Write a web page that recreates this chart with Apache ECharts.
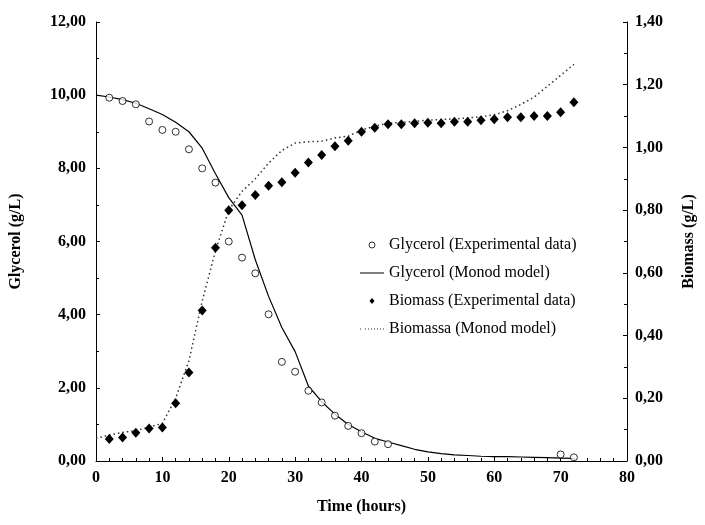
<!DOCTYPE html>
<html>
<head>
<meta charset="utf-8">
<script src="https://cdn.jsdelivr.net/npm/echarts@6/dist/echarts.min.js"></script>
<style>
  html, body { margin: 0; padding: 0; background: #fff; }
  #main { width: 705px; height: 525px; }
</style>
</head>
<body>
<div id="main"></div>
<script>
// experimental points (every 2 h)
var glyExpTime = [2, 4, 6, 8, 10, 12, 14, 16, 18, 20, 22, 24, 26, 28, 30, 32, 34, 36, 38, 40, 42, 44, 70, 72];
var glyExp = [9.93, 9.84, 9.75, 9.28, 9.05, 9.0, 8.52, 8.0, 7.61, 6.0, 5.56, 5.13, 4.01, 2.71, 2.44, 1.92, 1.60, 1.24, 0.96, 0.76, 0.53, 0.46, 0.18, 0.10];

var bioExpTime = [2, 4, 6, 8, 10, 12, 14, 16, 18, 20, 22, 24, 26, 28, 30, 32, 34, 36, 38, 40, 42, 44, 46, 48, 50, 52, 54, 56, 58, 60, 62, 64, 66, 68, 70, 72];
var bioExp = [0.070, 0.075, 0.090, 0.104, 0.107, 0.184, 0.282, 0.48, 0.68, 0.80, 0.816, 0.848, 0.878, 0.889, 0.919, 0.952, 0.976, 1.004, 1.021, 1.05, 1.063, 1.074, 1.074, 1.077, 1.079, 1.077, 1.082, 1.082, 1.087, 1.09, 1.096, 1.096, 1.10, 1.10, 1.112, 1.144];

// Monod model curves
var modelTime = [0, 2, 4, 6, 8, 10, 12, 14, 16, 18, 20, 22, 24, 26, 28, 30, 32, 34, 36, 38, 40, 42, 44, 46, 48, 50, 52, 54, 56, 58, 60, 62, 64, 66, 68, 70, 72];
var glyModel = [10.0, 9.95, 9.88, 9.78, 9.63, 9.47, 9.26, 9.0, 8.55, 7.85, 7.2, 6.72, 5.5, 4.5, 3.65, 2.99, 2.05, 1.62, 1.28, 1.0, 0.8, 0.62, 0.52, 0.42, 0.32, 0.25, 0.2, 0.17, 0.15, 0.13, 0.12, 0.12, 0.11, 0.1, 0.09, 0.08, 0.07];
var bioModel = [0.072, 0.083, 0.091, 0.097, 0.108, 0.12, 0.20, 0.32, 0.51, 0.67, 0.80, 0.86, 0.90, 0.95, 0.99, 1.014, 1.018, 1.02, 1.03, 1.036, 1.055, 1.068, 1.077, 1.08, 1.083, 1.087, 1.089, 1.091, 1.094, 1.098, 1.104, 1.117, 1.137, 1.16, 1.195, 1.23, 1.265];

var seriesNames = ['Glycerol (Experimental data)', 'Glycerol (Monod model)', 'Biomass (Experimental data)', 'Biomassa (Monod model)'];

function pairs(xs, ys) {
    return xs.map(function (x, i) { return [x, ys[i]]; });
}
function comma(v) {
    return v.toFixed(2).replace('.', ',');
}

var serif = 'Liberation Serif';
var myChart = echarts.init(document.getElementById('main'), null, { renderer: 'canvas' });

// legend icons (keep aspect so they stay thin / small)
var iconSolid = 'path://M0,0 L24,0 L24,1 L0,1 Z';
var iconDotted = 'path://M0,0h1v1h-1z M5,0h1v1h-1z M8,0h1v1h-1z M11,0h1v1h-1z M14,0h1v1h-1z M17,0h1v1h-1z M20,0h1v1h-1z M23,0h1v1h-1z';
var iconDiamond = 'path://M5,0 L10,6 L5,12 L0,6 Z';

var option = {
    backgroundColor: '#fff',
    animation: false,
    grid: { left: 96, right: 71, top: 22, bottom: 64 },
    legend: {
        orient: 'vertical',
        left: 355,
        top: 231,
        itemWidth: 24,
        itemHeight: 6,
        itemGap: 10,
        symbolKeepAspect: true,
        textStyle: { fontFamily: serif, fontSize: 16, color: '#000', lineHeight: 18 },
        data: [
            { name: seriesNames[0], icon: 'circle', itemStyle: { color: '#fff', borderColor: '#000', borderWidth: 1 } },
            { name: seriesNames[1], icon: iconSolid, itemStyle: { color: '#000', borderWidth: 0 } },
            { name: seriesNames[2], icon: iconDiamond, itemStyle: { color: '#000', borderWidth: 0 } },
            { name: seriesNames[3], icon: iconDotted, itemStyle: { color: '#333', borderWidth: 0 } }
        ]
    },
    xAxis: {
        type: 'value',
        min: 0, max: 80, interval: 10,
        name: 'Time (hours)',
        nameLocation: 'middle',
        nameGap: 38,
        nameTextStyle: { fontFamily: serif, fontSize: 16, fontWeight: 'bold', color: '#000' },
        axisLine: { show: true, lineStyle: { color: '#000', width: 1 } },
        axisTick: { show: true, inside: true, length: 4, lineStyle: { color: '#000' } },
        minorTick: { show: true, splitNumber: 5, length: 3, lineStyle: { color: '#000' } },
        axisLabel: { fontFamily: serif, fontSize: 16, fontWeight: 'bold', color: '#000', margin: 9 },
        splitLine: { show: false }
    },
    yAxis: [{
        type: 'value',
        min: 0, max: 12, interval: 2,
        name: 'Glycerol (g/L)',
        nameLocation: 'middle',
        nameGap: 72,
        nameTextStyle: { fontFamily: serif, fontSize: 16, fontWeight: 'bold', color: '#000' },
        axisLine: { show: true, lineStyle: { color: '#000', width: 1 } },
        axisTick: { show: true, inside: true, length: 4, lineStyle: { color: '#000' } },
        minorTick: { show: true, splitNumber: 2, length: 3, lineStyle: { color: '#000' } },
        axisLabel: { fontFamily: serif, fontSize: 16, fontWeight: 'bold', color: '#000', margin: 10, formatter: comma },
        splitLine: { show: false }
    }, {
        type: 'value',
        min: 0, max: 1.4, interval: 0.2,
        name: 'Biomass (g/L)',
        nameLocation: 'middle',
        nameGap: 54,
        nameTextStyle: { fontFamily: serif, fontSize: 16, fontWeight: 'bold', color: '#000' },
        axisLine: { show: true, lineStyle: { color: '#000', width: 1 } },
        axisTick: { show: true, inside: true, length: 4, lineStyle: { color: '#000' } },
        minorTick: { show: true, splitNumber: 2, length: 3, lineStyle: { color: '#000' } },
        axisLabel: { fontFamily: serif, fontSize: 16, fontWeight: 'bold', color: '#000', margin: 8, formatter: comma },
        splitLine: { show: false }
    }],
    series: [
        {
            name: seriesNames[0],
            type: 'scatter',
            yAxisIndex: 0,
            symbol: 'circle',
            symbolSize: 7,
            itemStyle: { color: '#fff', borderColor: '#000', borderWidth: 1 },
            data: pairs(glyExpTime, glyExp),
            z: 3
        },
        {
            name: seriesNames[1],
            type: 'line',
            yAxisIndex: 0,
            showSymbol: false,
            symbol: 'none',
            lineStyle: { color: '#000', width: 1.2 },
            itemStyle: { color: '#000' },
            data: pairs(modelTime, glyModel),
            z: 2
        },
        {
            name: seriesNames[2],
            type: 'scatter',
            yAxisIndex: 1,
            symbol: 'diamond',
            symbolSize: [9, 10],
            itemStyle: { color: '#000', opacity: 1 },
            data: pairs(bioExpTime, bioExp),
            z: 3
        },
        {
            name: seriesNames[3],
            type: 'line',
            yAxisIndex: 1,
            showSymbol: false,
            symbol: 'none',
            lineStyle: { color: '#333', width: 1.5, type: [1.5, 3] },
            itemStyle: { color: '#333' },
            data: pairs(modelTime, bioModel),
            z: 2
        }
    ]
};

option && myChart.setOption(option);
window.addEventListener('resize', myChart.resize);
</script>
</body>
</html>
